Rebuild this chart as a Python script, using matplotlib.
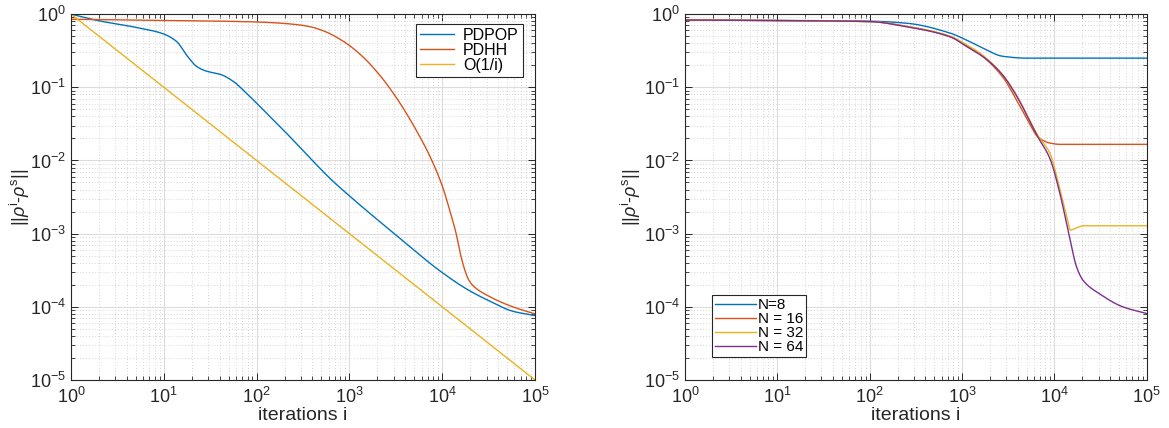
import numpy as np
import matplotlib.pyplot as plt
from matplotlib.ticker import LogLocator, NullFormatter

plt.rcParams['font.family'] = ['Liberation Sans', 'DejaVu Sans']
plt.rcParams['mathtext.fontset'] = 'custom'
plt.rcParams['mathtext.rm'] = 'Liberation Sans'
plt.rcParams['mathtext.it'] = 'Liberation Sans:italic'
plt.rcParams['mathtext.bf'] = 'Liberation Sans:bold'

# matlab default colours
C_BLUE = '#0072BD'
C_RED = '#D95319'
C_YEL = '#EDB120'
C_PUR = '#7E2F8E'

# ---- left panel: PDPOP vs PDHH (log10 of iteration, value) ----
pdpop_logi = [0.0, 0.30, 0.67, 0.99, 1.14, 1.25, 1.36, 1.46, 1.61, 1.75, 1.89,
              2.11, 2.33, 2.47, 2.79, 3.01, 3.50, 3.99, 4.28, 4.51, 4.76, 5.0]
pdpop_val = [1.0, 0.81, 0.67, 0.54, 0.42, 0.27, 0.19, 0.166, 0.15, 0.12, 0.083,
             0.044, 0.023, 0.015, 5.7e-3, 3.2e-3, 9.6e-4, 3.0e-4, 1.7e-4, 1.2e-4, 8.7e-5, 7.6e-5]

pdhh_logi = [0.0, 1.0, 1.93, 2.2, 2.47, 2.6, 2.75, 2.9, 3.0, 3.15, 3.33, 3.51, 3.69,
             3.87, 4.0, 4.08, 4.15, 4.2, 4.25, 4.28, 4.34, 4.51, 4.76, 5.0]
pdhh_val = [0.85, 0.82, 0.785, 0.76, 0.708, 0.661, 0.569, 0.452, 0.372, 0.257, 0.1445,
            0.0708, 0.0302, 0.0112, 4.5e-3, 2.1e-3, 1.0e-3, 5.0e-4, 3.0e-4, 2.4e-4,
            1.9e-4, 1.38e-4, 1.0e-4, 8.0e-5]

ref_i = [1, 1e5]
ref_val = [1, 1e-5]

# ---- right panel: different N ----
n8_logi = [0.0, 2.0, 2.4, 2.87, 3.05, 3.23, 3.44, 3.7, 5.0]
n8_val = [0.83, 0.80, 0.75, 0.55, 0.44, 0.34, 0.265, 0.25, 0.25]

n16_logi = [0.0, 2.0, 2.4, 2.87, 3.05, 3.23, 3.44, 3.59, 3.73, 3.82, 3.95, 4.06, 5.0]
n16_val = [0.83, 0.79, 0.68, 0.49, 0.37, 0.26, 0.138, 0.067, 0.032, 0.021, 0.0173, 0.0166, 0.0166]

n32_logi = [0.0, 2.0, 2.4, 2.87, 3.05, 3.23, 3.44, 3.59, 3.82, 3.95, 4.06, 4.15, 4.17,
            4.24, 4.31, 5.0]
n32_val = [0.83, 0.79, 0.68, 0.50, 0.38, 0.27, 0.147, 0.078, 0.022, 0.0126, 4.0e-3,
           1.4e-3, 1.12e-3, 1.2e-3, 1.28e-3, 1.28e-3]

n64_logi = [0.0, 2.0, 2.4, 2.87, 3.05, 3.23, 3.44, 3.59, 3.82, 3.95, 4.06, 4.17,
            4.24, 4.31, 4.49, 4.74, 5.0]
n64_val = [0.83, 0.79, 0.67, 0.49, 0.36, 0.26, 0.147, 0.076, 0.021, 0.0107, 3.5e-3,
           8.1e-4, 3.5e-4, 2.3e-4, 1.5e-4, 1.0e-4, 8.1e-5]


def pchip(x, y, xn):
    ''' monotone cubic through (x,y), evaluated at xn '''
    x = np.asarray(x, float); y = np.asarray(y, float)
    h = np.diff(x); d = np.diff(y)/h
    m = np.zeros_like(y)
    for k in range(1, len(x)-1):
        if d[k-1]*d[k] > 0:
            w1 = 2*h[k]+h[k-1]; w2 = h[k]+2*h[k-1]
            m[k] = (w1+w2)/(w1/d[k-1]+w2/d[k])
    m[0] = d[0]; m[-1] = d[-1]
    idx = np.clip(np.searchsorted(x, xn)-1, 0, len(h)-1)
    t = (xn-x[idx])/h[idx]
    hh = h[idx]
    return ((2*t**3-3*t**2+1)*y[idx] + (t**3-2*t**2+t)*hh*m[idx]
            + (-2*t**3+3*t**2)*y[idx+1] + (t**3-t**2)*hh*m[idx+1])


def curve(logi, val):
    xs = np.linspace(0, 5, 800)
    ys = pchip(logi, np.log10(val), xs)
    return 10**xs, 10**ys


def style(ax, ylab_x):
    ax.set_xscale('log'); ax.set_yscale('log')
    ax.set_xlim(1, 1e5); ax.set_ylim(1e-5, 1)
    ax.xaxis.set_major_locator(LogLocator(base=10, numticks=10))
    ax.yaxis.set_major_locator(LogLocator(base=10, numticks=10))
    ax.xaxis.set_minor_locator(LogLocator(base=10, subs=np.arange(2, 10), numticks=20))
    ax.yaxis.set_minor_locator(LogLocator(base=10, subs=np.arange(2, 10), numticks=20))
    ax.xaxis.set_minor_formatter(NullFormatter())
    ax.yaxis.set_minor_formatter(NullFormatter())
    ax.grid(True, which='major', color='#dcdcdc', lw=0.8, ls='-')
    ax.grid(True, which='minor', color='#c8c8c8', lw=0.6, ls=(0, (1, 2.5)))
    ax.set_axisbelow(True)
    ax.tick_params(which='both', direction='in', top=True, right=True,
                   colors='#262626', labelcolor='#262626', labelsize=13)
    ax.tick_params(which='major', length=5, width=0.7)
    ax.tick_params(which='minor', length=3, width=0.6)
    ax.tick_params(axis='x', which='major', pad=5)
    for s in ax.spines.values():
        s.set_color('#262626'); s.set_linewidth(0.8)
    ax.set_xlabel('iterations i', fontsize=14, color='#262626', labelpad=0)
    ax.set_ylabel(r'||$\rho^{\mathrm{i}}$-$\rho^{\mathrm{s}}$||', fontsize=13,
                  color='#262626')
    ax.yaxis.set_label_coords(ylab_x, 0.5)


fig = plt.figure(figsize=(11.69, 4.28), dpi=100)
ax1 = fig.add_axes([0.0607, 0.1121, 0.397, 0.855])
ax2 = fig.add_axes([0.586, 0.1121, 0.395, 0.855])

lw = 1.0
ax1.plot(*curve(pdpop_logi, pdpop_val), color=C_BLUE, lw=lw, label='PDPOP')
ax1.plot(*curve(pdhh_logi, pdhh_val), color=C_RED, lw=lw, label='PDHH')
ax1.plot(ref_i, ref_val, color=C_YEL, lw=lw, label='O(1/i)')
style(ax1, -0.085)
leg1 = ax1.legend(loc='upper right', bbox_to_anchor=(0.974, 0.973), fontsize=11.5,
                  frameon=True, fancybox=False, edgecolor='#262626', framealpha=1,
                  handlelength=2.1, handletextpad=0.6, labelspacing=0.0,
                  borderpad=0.25, borderaxespad=0)
leg1.get_frame().set_linewidth(0.8)

ax2.plot(*curve(n8_logi, n8_val), color=C_BLUE, lw=lw, label='N=8')
ax2.plot(*curve(n16_logi, n16_val), color=C_RED, lw=lw, label='N = 16')
ax2.plot(*curve(n32_logi, n32_val), color=C_YEL, lw=lw, label='N = 32')
ax2.plot(*curve(n64_logi, n64_val), color=C_PUR, lw=lw, label='N = 64')
style(ax2, -0.09)
leg2 = ax2.legend(loc='lower left', bbox_to_anchor=(0.058, 0.063), fontsize=11,
                  frameon=True, fancybox=False, edgecolor='#262626', framealpha=1,
                  handlelength=2.7, handletextpad=0.1, labelspacing=0.0,
                  borderpad=0.2, borderaxespad=0)
leg2.get_frame().set_linewidth(0.8)

fig.savefig('out.png', dpi=100)
